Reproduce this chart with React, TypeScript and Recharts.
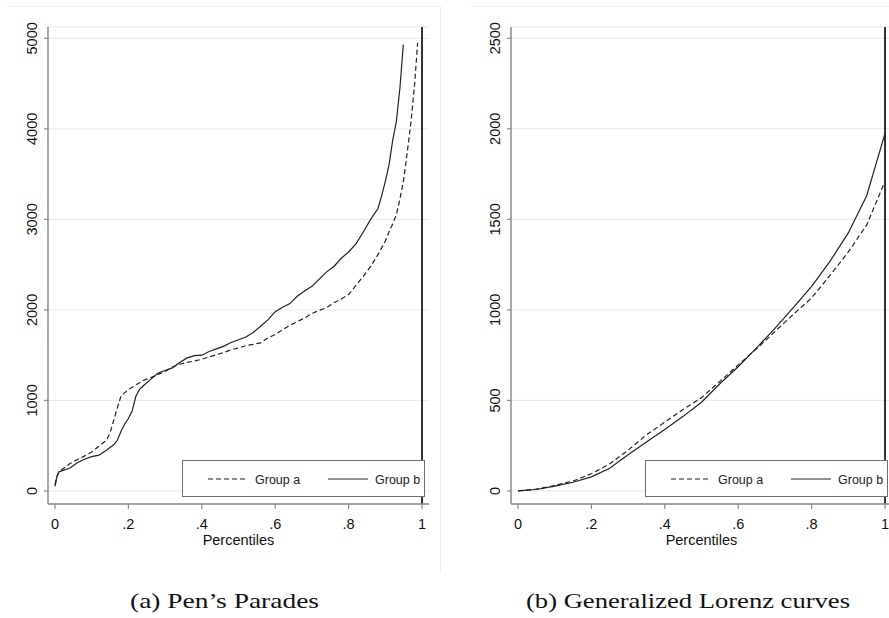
import React from 'react';
import { LineChart, Line, XAxis, YAxis, CartesianGrid, ReferenceLine, Legend } from 'recharts';

const FONT = '"Liberation Sans", Arial, sans-serif';
const SERIF = '"Liberation Serif", "Times New Roman", serif';

const xTicks = [0, 0.2, 0.4, 0.6, 0.8, 1];
const xTickLabels = ['0', '.2', '.4', '.6', '.8', '1'];

const penYTicks = [0, 1000, 2000, 3000, 4000, 5000];
const lorenzYTicks = [0, 500, 1000, 1500, 2000, 2500];

const seriesNames = ['Group a', 'Group b'];
const captions = ['(a) Pen’s Parades', '(b) Generalized Lorenz curves'];

// Pen's parade, group a (dashed)
const penPctA = [
  0, 0.005, 0.01, 0.02, 0.04, 0.06, 0.08, 0.1, 0.12, 0.14,
  0.15, 0.16, 0.17, 0.18, 0.2, 0.22, 0.24, 0.26, 0.28, 0.3,
  0.32, 0.34, 0.36, 0.38, 0.4, 0.42, 0.44, 0.46, 0.48, 0.5,
  0.52, 0.54, 0.56, 0.58, 0.6, 0.62, 0.64, 0.66, 0.68, 0.7,
  0.72, 0.74, 0.76, 0.78, 0.8, 0.82, 0.84, 0.86, 0.88, 0.9,
  0.91, 0.92, 0.93, 0.94, 0.95, 0.96, 0.97, 0.98, 0.988,
];
const penGroupA = [
  70, 160, 200, 240, 300, 345, 385, 430, 495, 560,
  640, 780, 920, 1050, 1120, 1170, 1220, 1250, 1285, 1320,
  1370, 1400, 1420, 1435, 1455, 1480, 1505, 1530, 1560, 1580,
  1605, 1620, 1635, 1690, 1730, 1780, 1830, 1870, 1910, 1960,
  1995, 2025, 2080, 2120, 2170, 2270, 2370, 2480, 2610, 2760,
  2860, 2950, 3050, 3230, 3440, 3750, 4080, 4500, 4950,
];

// Pen's parade, group b (solid)
const penPctB = [
  0, 0.005, 0.01, 0.02, 0.04, 0.06, 0.08, 0.1, 0.12, 0.14,
  0.16, 0.17, 0.18, 0.19, 0.2, 0.21, 0.22, 0.23, 0.24, 0.26,
  0.28, 0.3, 0.32, 0.34, 0.36, 0.38, 0.4, 0.42, 0.44, 0.46,
  0.48, 0.5, 0.52, 0.54, 0.56, 0.58, 0.6, 0.62, 0.64, 0.66,
  0.68, 0.7, 0.72, 0.74, 0.76, 0.78, 0.8, 0.82, 0.84, 0.86,
  0.88, 0.89, 0.9, 0.91, 0.92, 0.93, 0.94, 0.949,
];
const penGroupB = [
  50, 150, 210, 225, 250, 310, 350, 380, 395, 450,
  510, 560, 660, 740, 800, 880, 1040, 1120, 1160, 1230,
  1300, 1330, 1360, 1420, 1470, 1495, 1500, 1540, 1570, 1600,
  1640, 1670, 1700, 1750, 1820, 1890, 1980, 2030, 2070, 2150,
  2210, 2260, 2340, 2420, 2480, 2570, 2640, 2730, 2860, 3000,
  3120, 3260, 3420, 3600, 3870, 4080, 4460, 4930,
];

// Generalized Lorenz curves
const lorenzPct = [
  0, 0.05, 0.1, 0.15, 0.2, 0.25, 0.3, 0.35, 0.4, 0.45, 0.5,
  0.55, 0.6, 0.65, 0.7, 0.75, 0.8, 0.85, 0.9, 0.95, 1,
];
const lorenzGroupA = [
  0, 10, 30, 55, 95, 150, 225, 310, 380, 450, 515,
  605, 696, 785, 880, 975, 1066, 1190, 1320, 1469, 1710,
];
const lorenzGroupB = [
  0, 8, 27, 48, 78, 125, 200, 270, 340, 412, 490,
  592, 686, 790, 898, 1012, 1130, 1268, 1425, 1630, 1975,
];

const toPoints = (pct: number[], vals: number[]) => pct.map((p, i) => ({ p, v: vals[i] }));

const XTick = (props: any) => {
  const { x, y, payload } = props;
  const idx = xTicks.indexOf(payload.value);
  return (
    <text x={x} y={y} dy="0.71em" textAnchor="middle" fill="#111" fontSize={14.5} fontFamily={FONT}>
      {idx >= 0 ? xTickLabels[idx] : payload.value}
    </text>
  );
};

const YTick = (props: any) => {
  const { x, y, payload } = props;
  return (
    <text
      transform={`translate(${x},${y}) rotate(-90)`}
      textAnchor="middle"
      fill="#111"
      fontSize={14.5}
      fontFamily={FONT}
    >
      {payload.value}
    </text>
  );
};

function LegendBox() {
  return (
    <div
      style={{
        width: 243,
        height: 37,
        boxSizing: 'border-box',
        border: '1px solid #6e6e6e',
        background: '#fff',
        position: 'relative',
      }}
    >
      <svg width={243} height={37} style={{ position: 'absolute', left: -1, top: -1 }}>
        <line x1={26} x2={66} y1={19} y2={19} stroke="#222" strokeWidth={1.2} strokeDasharray="5 3" />
        <text x={73} y={23.5} fontSize={12.5} fontFamily={FONT} fill="#222">{seriesNames[0]}</text>
        <line x1={146} x2={186} y1={19} y2={19} stroke="#222" strokeWidth={1.2} />
        <text x={193} y={23.5} fontSize={12.5} fontFamily={FONT} fill="#222">{seriesNames[1]}</text>
      </svg>
    </div>
  );
}

interface PanelProps {
  left: number;
  yTicks: number[];
  yDomain: [number, number];
  dataA: { p: number; v: number }[];
  dataB: { p: number; v: number }[];
}

function Panel({ left, yTicks, yDomain, dataA, dataB }: PanelProps) {
  return (
    <div style={{ position: 'absolute', left, top: 0, width: 445, height: 560 }}>
      <LineChart width={445} height={560} margin={{ top: 27, right: 16, bottom: 6, left: 0 }}>
        <CartesianGrid vertical={false} stroke="#e8e8e8" strokeWidth={1} />
        <XAxis
          type="number"
          dataKey="p"
          domain={[-0.019, 1.019]}
          ticks={xTicks}
          allowDataOverflow
          height={50}
          tickSize={5}
          tickMargin={10}
          tick={XTick}
          axisLine={{ stroke: '#8a8a8a', strokeWidth: 1.5 }}
          tickLine={{ stroke: '#8a8a8a', strokeWidth: 1.2 }}
          label={{ value: 'Percentiles', position: 'insideBottom', offset: 9, fill: '#111', fontSize: 14.5, fontFamily: FONT }}
        />
        <YAxis
          type="number"
          domain={yDomain}
          ticks={yTicks}
          allowDataOverflow
          width={48}
          tickSize={4}
          tickMargin={7}
          tick={YTick}
          axisLine={{ stroke: '#8a8a8a', strokeWidth: 1.5 }}
          tickLine={{ stroke: '#8a8a8a', strokeWidth: 1.2 }}
        />
        <ReferenceLine x={1} stroke="#000" strokeWidth={1.6} />
        <Line
          data={dataA}
          dataKey="v"
          name={seriesNames[0]}
          type="linear"
          stroke="#222"
          strokeWidth={1.2}
          strokeDasharray="5 3"
          dot={false}
          isAnimationActive={false}
        />
        <Line
          data={dataB}
          dataKey="v"
          name={seriesNames[1]}
          type="linear"
          stroke="#222"
          strokeWidth={1.2}
          dot={false}
          isAnimationActive={false}
        />
        <Legend
          layout="horizontal"
          verticalAlign="middle"
          align="center"
          wrapperStyle={{ left: 182, top: 460, width: 243, height: 37 }}
          content={() => <LegendBox />}
        />
      </LineChart>
    </div>
  );
}

export default function App() {
  return (
    <div
      style={{
        position: 'absolute',
        left: 0,
        top: 0,
        width: 889,
        height: 618,
        overflow: 'hidden',
        background: '#fff',
      }}
    >
      {/* faint outer graph-region frames */}
      <div style={{ position: 'absolute', left: 7, top: 6, width: 433, height: 566, borderTop: '1px solid #f0f0f0', borderRight: '1px solid #f0f0f0' }} />
      <div style={{ position: 'absolute', left: 470, top: 6, width: 440, height: 566, borderTop: '1px solid #f0f0f0' }} />
      <Panel left={0} yTicks={penYTicks} yDomain={[-144, 5125]} dataA={toPoints(penPctA, penGroupA)} dataB={toPoints(penPctB, penGroupB)} />
      <Panel left={463} yTicks={lorenzYTicks} yDomain={[-72, 2562]} dataA={toPoints(lorenzPct, lorenzGroupA)} dataB={toPoints(lorenzPct, lorenzGroupB)} />
      <svg width={889} height={618} style={{ position: 'absolute', left: 0, top: 0, pointerEvents: 'none' }}>
        <text x={130} y={608} fontSize={21} fontFamily={SERIF} fill="#111" textLength={189} lengthAdjust="spacingAndGlyphs">
          {captions[0]}
        </text>
        <text x={526} y={608} fontSize={21} fontFamily={SERIF} fill="#111" textLength={324} lengthAdjust="spacingAndGlyphs">
          {captions[1]}
        </text>
      </svg>
    </div>
  );
}
